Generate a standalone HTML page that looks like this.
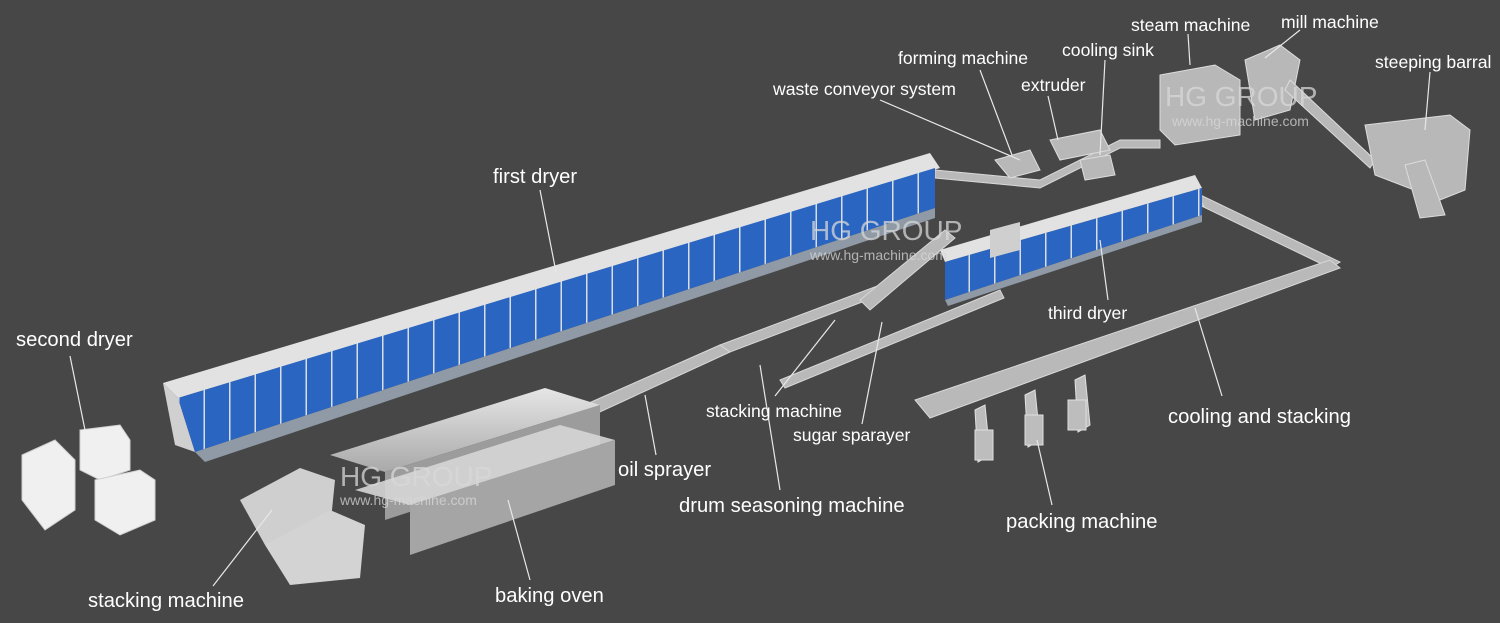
<!DOCTYPE html>
<html><head><meta charset="utf-8"><style>
html,body{margin:0;padding:0;background:#474747;}
svg{display:block;}
text{font-family:"Liberation Sans",sans-serif;fill:#fff;font-size:17.6px;}
.b{font-size:20.2px;}
.wm{fill:#d8d8d8;opacity:.75;font-size:28px;}
.wm2{fill:#d8d8d8;opacity:.75;font-size:14px;}
</style></head><body>
<svg width="1500" height="623" viewBox="0 0 1500 623" xmlns="http://www.w3.org/2000/svg">
<defs>
<pattern id="pan" patternUnits="userSpaceOnUse" width="25.5" height="10" x="178">
<rect width="25.5" height="10" fill="#2b65c2"/>
<rect width="1.5" height="10" fill="#d8dde6"/>
</pattern>
<linearGradient id="met" x1="0" y1="0" x2="0" y2="1"><stop offset="0" stop-color="#e6e6e6"/><stop offset="1" stop-color="#a9a9a9"/></linearGradient>
</defs>
<rect width="1500" height="623" fill="#474747"/>

<!-- conveyors -->
<g fill="#b9b9b9" stroke="#d8d8d8" stroke-width="1">
<polygon points="555,418 720,345 730,352 565,428"/>
<polygon points="720,345 880,285 886,293 730,352"/>
<polygon points="860,300 945,230 955,238 870,310"/>
<polygon points="780,380 1000,290 1004,298 785,388"/>
<polygon points="1190,190 1340,262 1330,268 1185,198"/>
<polygon points="915,400 1330,260 1340,268 930,418"/>
<polygon points="960,280 1200,200 1204,206 965,288"/>
<polygon points="935,170 1040,180 1120,140 1160,140 1160,148 1120,148 1040,188 935,178"/>
</g>
<!-- packing machines -->
<g fill="#bdbdbd" stroke="#e0e0e0">
<polygon points="975,410 985,405 990,455 978,462"/>
<polygon points="1025,395 1035,390 1040,440 1028,447"/>
<polygon points="1075,380 1085,375 1090,425 1078,432"/>
<rect x="975" y="430" width="18" height="30"/>
<rect x="1025" y="415" width="18" height="30"/>
<rect x="1068" y="400" width="18" height="30"/>
</g>

<!-- first dryer -->
<polygon points="163,383 930,153 940,168 178,398" fill="#e2e2e2"/>
<polygon points="163,383 178,398 195,452 175,445" fill="#d0d0d0"/>
<polygon points="178,398 935,168 935,208 195,452" fill="url(#pan)"/>
<polygon points="195,452 935,208 935,218 205,462" fill="#8f9aa6"/>
<!-- third dryer -->
<polygon points="940,250 1195,175 1202,188 945,262" fill="#e2e2e2"/>
<polygon points="945,262 1202,188 1202,215 945,300" fill="url(#pan)"/>
<polygon points="945,300 1202,215 1202,222 948,306" fill="#8f9aa6"/>
<polygon points="990,230 1020,222 1020,250 990,258" fill="#cfcfcf"/>

<!-- baking oven -->
<g>
<polygon points="330,455 545,388 600,405 385,472" fill="url(#met)"/>
<polygon points="385,472 600,405 600,450 385,520" fill="#9c9c9c"/>
<polygon points="355,490 560,425 615,440 410,505" fill="#d6d6d6" opacity=".9"/>
<polygon points="410,505 615,440 615,485 410,555" fill="#a5a5a5"/>
<polygon points="240,500 300,468 335,480 330,530 265,545" fill="#cfcfcf"/>
<polygon points="265,545 330,510 365,525 360,578 290,585" fill="#d3d3d3"/>
</g>
<!-- second dryer -->
<g fill="#f0f0f0" stroke="#cfcfcf">
<polygon points="22,455 55,440 75,460 75,510 45,530 22,500"/>
<polygon points="80,430 120,425 130,440 130,470 100,480 80,470"/>
<polygon points="95,480 140,470 155,480 155,520 120,535 95,520"/>
</g>
<!-- top right machines -->
<g fill="#b8b8b8" stroke="#dcdcdc">
<polygon points="1160,75 1215,65 1240,80 1240,135 1175,145 1160,130"/>
<polygon points="1245,60 1280,45 1300,60 1290,110 1255,120"/>
<polygon points="1290,80 1375,160 1370,168 1285,90" />
<polygon points="1365,125 1450,115 1470,130 1465,190 1440,200 1375,175"/>
<polygon points="1405,165 1425,160 1445,215 1420,218"/>
<polygon points="995,160 1030,150 1040,170 1010,178"/>
<polygon points="1050,140 1100,130 1110,150 1060,160"/>
<polygon points="1080,160 1110,155 1115,175 1085,180"/>
</g>

<!-- leader lines -->
<g stroke="#e8e8e8" stroke-width="1.2">
<line x1="540" y1="190" x2="556" y2="272"/>
<line x1="1100" y1="240" x2="1108" y2="300"/>
<line x1="70" y1="356" x2="85" y2="430"/>
<line x1="1195" y1="308" x2="1222" y2="396"/>
<line x1="835" y1="320" x2="775" y2="396"/>
<line x1="882" y1="322" x2="862" y2="424"/>
<line x1="645" y1="395" x2="656" y2="455"/>
<line x1="760" y1="365" x2="780" y2="490"/>
<line x1="1037" y1="440" x2="1052" y2="505"/>
<line x1="272" y1="510" x2="213" y2="586"/>
<line x1="508" y1="500" x2="530" y2="580"/>
<line x1="880" y1="100" x2="1020" y2="160"/>
<line x1="980" y1="70" x2="1012" y2="155"/>
<line x1="1048" y1="96" x2="1058" y2="140"/>
<line x1="1105" y1="60" x2="1100" y2="155"/>
<line x1="1188" y1="34" x2="1190" y2="65"/>
<line x1="1300" y1="30" x2="1265" y2="58"/>
<line x1="1430" y1="72" x2="1425" y2="130"/>
</g>

<!-- watermarks -->
<text class="wm" x="1165" y="106">HG GROUP</text>
<text class="wm2" x="1172" y="126">www.hg-machine.com</text>
<text class="wm" x="810" y="240">HG GROUP</text>
<text class="wm2" x="810" y="260">www.hg-machine.com</text>
<text class="wm" x="340" y="486">HG GROUP</text>
<text class="wm2" x="340" y="505">www.hg-machine.com</text>

<!-- labels -->
<text x="1131" y="31">steam machine</text>
<text x="1281" y="28">mill machine</text>
<text x="1375" y="68">steeping barral</text>
<text x="898" y="64">forming machine</text>
<text x="1062" y="56">cooling sink</text>
<text x="1021" y="91">extruder</text>
<text x="773" y="95">waste conveyor system</text>
<text class="b" x="493" y="183">first dryer</text>
<text x="1048" y="319">third dryer</text>
<text class="b" x="16" y="346">second dryer</text>
<text class="b" x="1168" y="423">cooling and stacking</text>
<text x="706" y="417">stacking machine</text>
<text x="793" y="441">sugar sparayer</text>
<text class="b" x="618" y="476">oil sprayer</text>
<text class="b" x="679" y="512">drum seasoning machine</text>
<text class="b" x="1006" y="528">packing machine</text>
<text class="b" x="88" y="607">stacking machine</text>
<text class="b" x="495" y="602">baking oven</text>
</svg>
</body></html>
